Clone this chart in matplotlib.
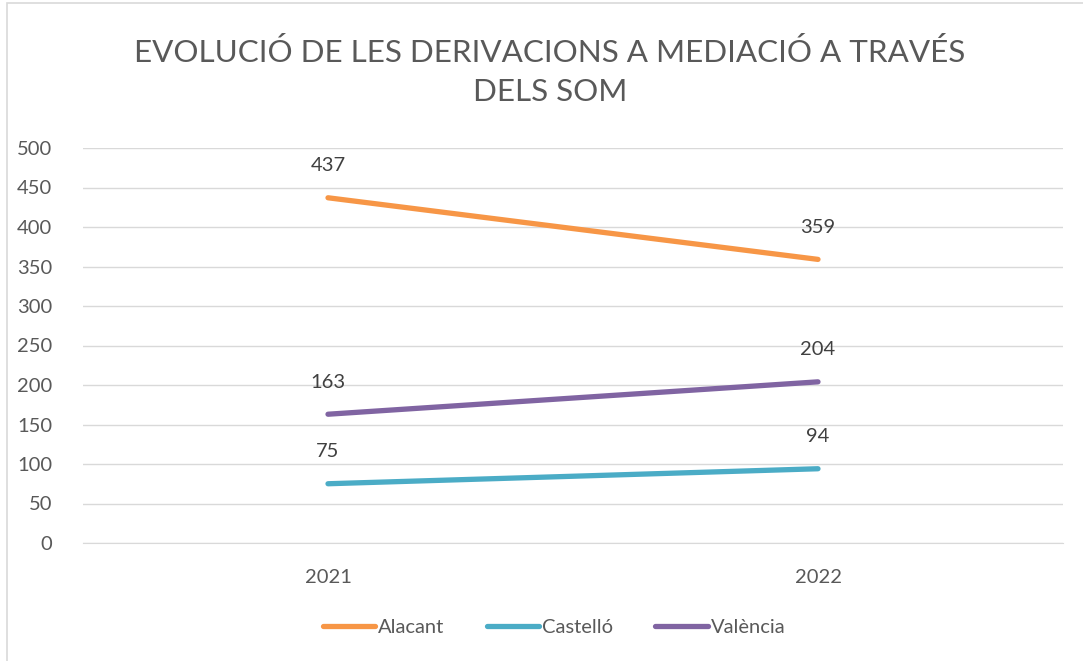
import matplotlib
matplotlib.use("Agg")
import matplotlib.pyplot as plt
from matplotlib.patches import Rectangle

years = ["2021", "2022"]
series_names = ["Alacant", "Castelló", "València"]
alacant = [437, 359]
castello = [75, 94]
valencia = [163, 204]
colors = ["#F79646", "#4BACC6", "#8064A2"]

plt.rcParams["font.family"] = ["Lato", "DejaVu Sans"]

fig = plt.figure(figsize=(10.83, 6.61), dpi=100)
ax = fig.add_axes([83 / 1083, 1 - 543 / 661, 980 / 1083, 395 / 661])

# chart border
fig.patches.append(Rectangle((7 / 1083, -0.01), 1.1, 1 - 3 / 661 + 0.01,
                             transform=fig.transFigure, fill=False,
                             edgecolor="#D9D9D9", linewidth=1.2))

x = [0.5, 1.5]
for name, vals, c in zip(series_names, [alacant, castello, valencia], colors):
    ax.plot(x, vals, color=c, linewidth=3.8, solid_capstyle="round", label=name)
    for xi, v in zip(x, vals):
        ax.annotate(str(v), (xi, v), xytext=(0, 23), textcoords="offset points",
                    ha="center", va="center", fontsize=14.5, color="#404040")

ax.set_xlim(0, 2)
ax.set_ylim(0, 500)
ax.set_yticks(range(0, 501, 50))
ax.set_xticks(x)
ax.set_xticklabels(years)
ax.grid(axis="y", color="#D9D9D9", linewidth=1)
ax.set_axisbelow(True)
for s in ["top", "right", "left"]:
    ax.spines[s].set_visible(False)
ax.spines["bottom"].set_color("#D9D9D9")
ax.tick_params(axis="both", length=0, labelsize=14.5, colors="#595959")
ax.tick_params(axis="y", pad=22)
ax.tick_params(axis="x", pad=19)

fig.text(550 / 1083, 1 - 72 / 661, "EVOLUCIÓ DE LES DERIVACIONS A MEDIACIÓ A TRAVÉS\nDELS SOM",
         ha="center", va="center", fontsize=22.6, color="#595959", linespacing=1.5)

leg = fig.legend(loc="center", bbox_to_anchor=(554 / 1083, 1 - 627 / 661), ncol=3,
                 frameon=False, fontsize=14.5, handlelength=2.6, handletextpad=0.15,
                 columnspacing=2.1)
for t in leg.get_texts():
    t.set_color("#595959")

fig.savefig("out.png", dpi=100)
